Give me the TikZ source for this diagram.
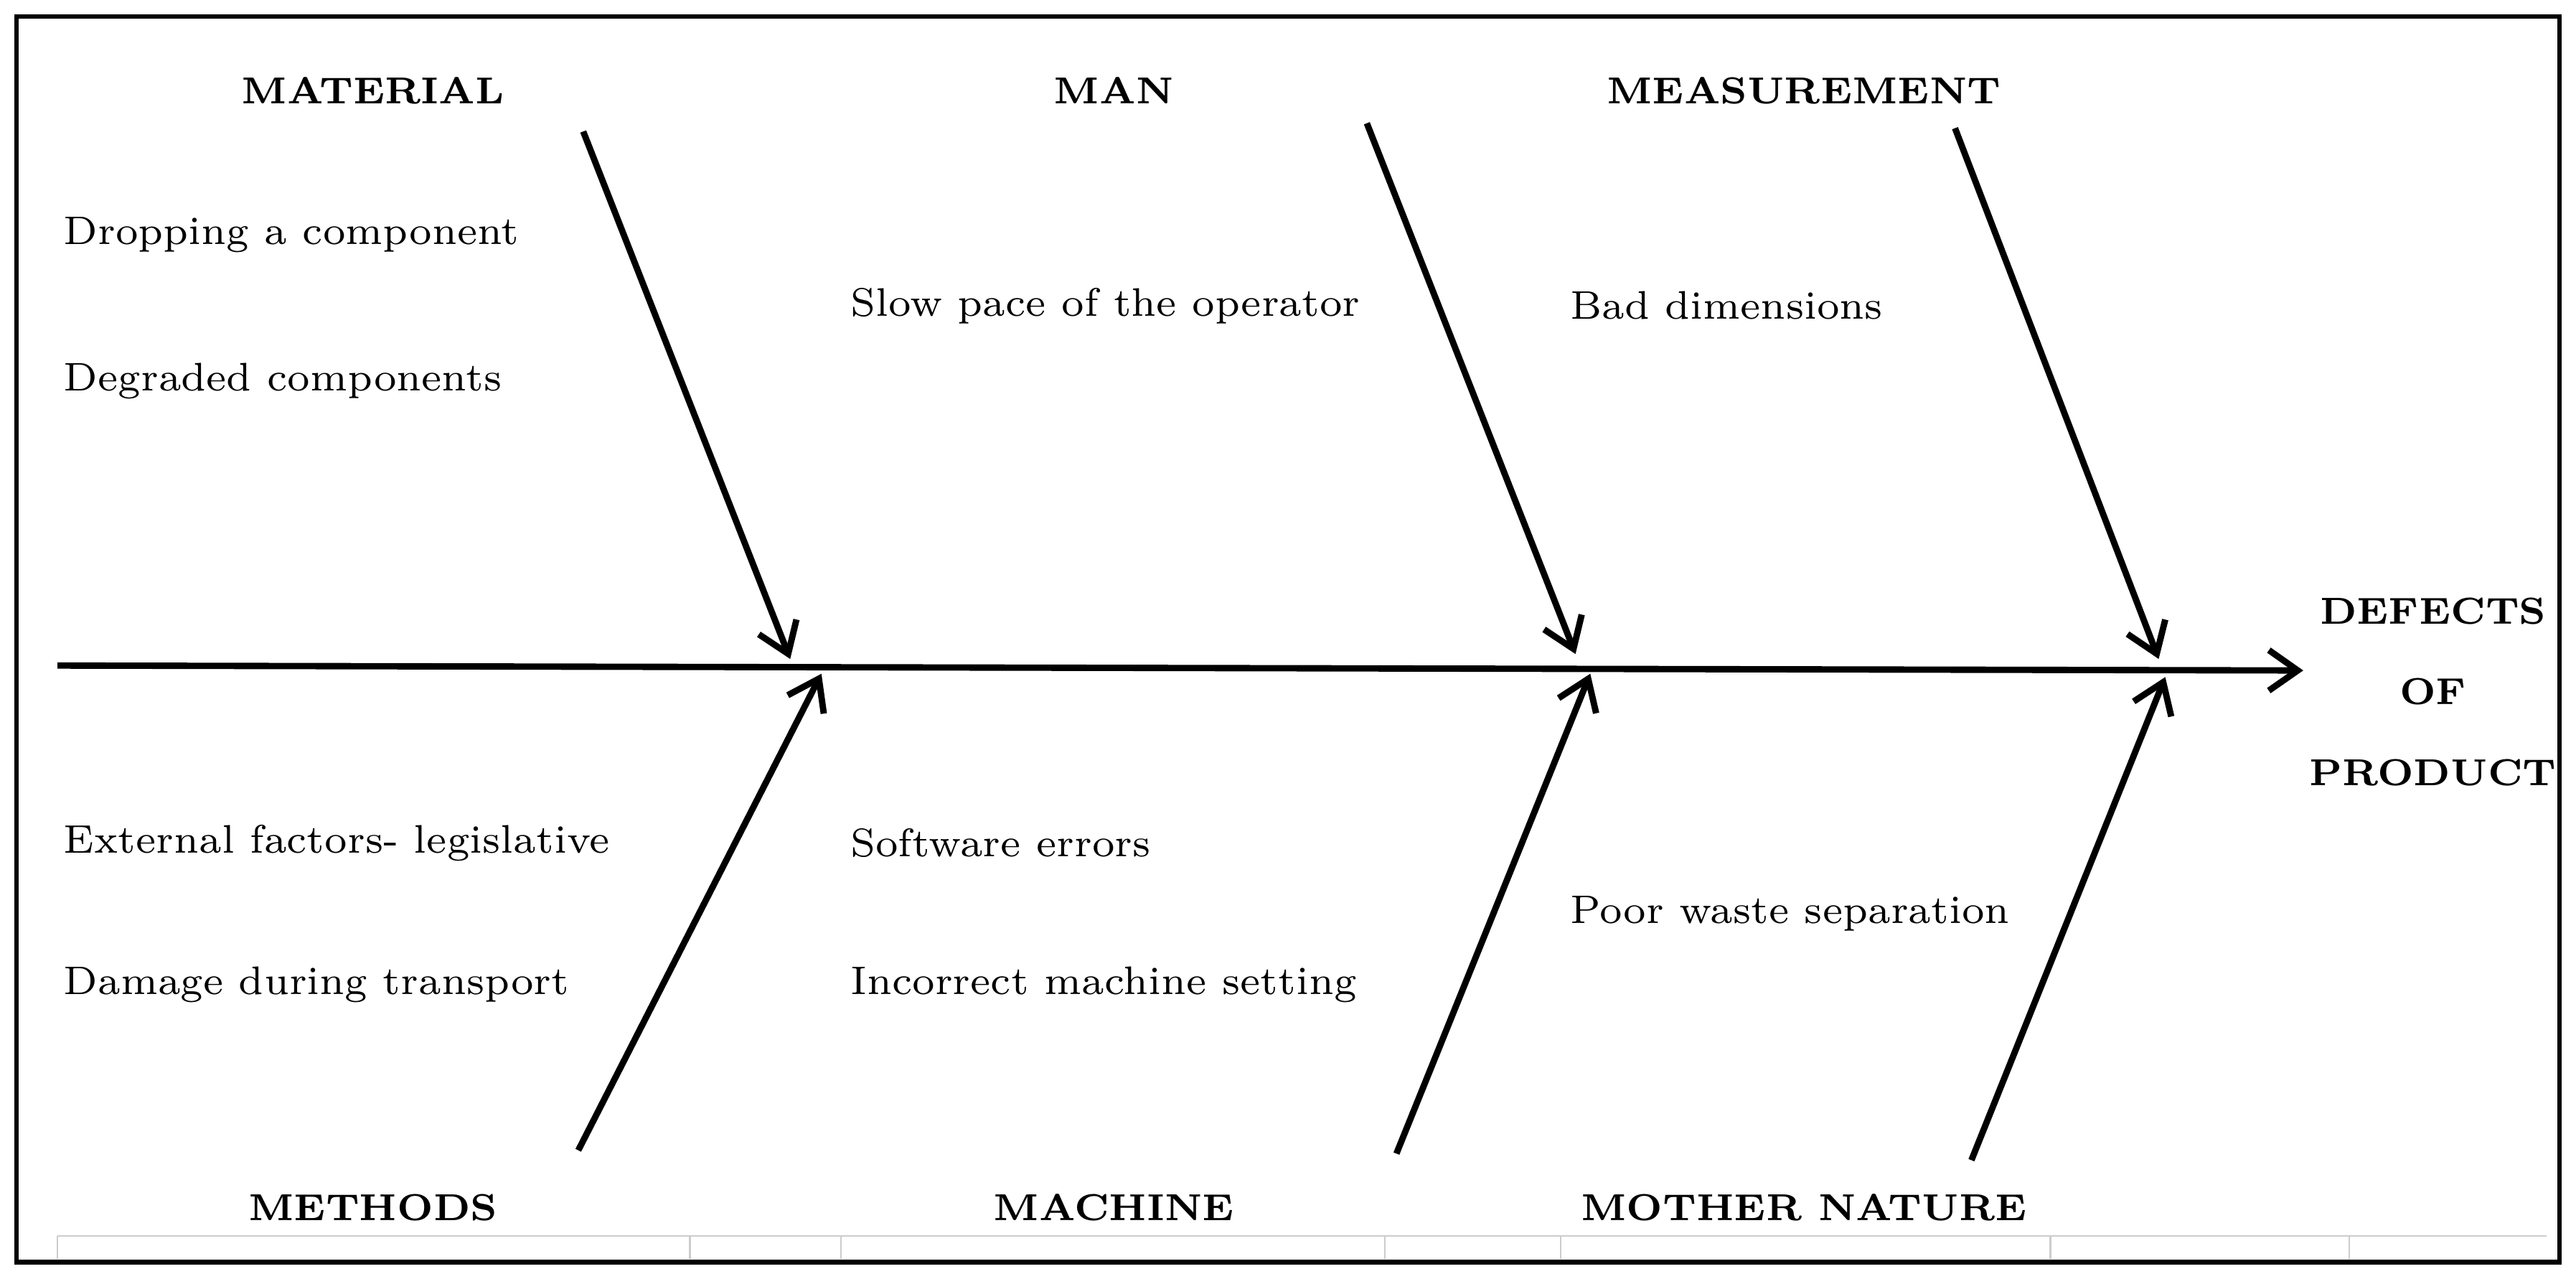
\documentclass[tikz,border=0pt]{standalone}
\usetikzlibrary{arrows.meta}
\begin{document}
\begin{tikzpicture}[x=0.01cm,y=-0.01cm,
  bone/.style={line width=1.1pt,-{Straight Barb[length=5pt,width=7pt,line width=1.1pt]}},
  cause/.style={anchor=west,inner sep=0pt,font=\fontsize{6.9}{9}\selectfont},
  head/.style={anchor=center,inner sep=0pt,font=\fontsize{6.5}{9}\selectfont\bfseries}]
\useasboundingbox (0,0) rectangle (1568,778);
\draw[line width=0.8pt] (10,10) rectangle (1558,768);
\draw[gray!40,line width=0.3pt] (35,752) -- (1550,752);
\foreach \x in {35,420,512,843,950,1248,1430} \draw[gray!40,line width=0.3pt] (\x,752) -- (\x,766);
% spine
\coordinate (tail) at (35,405);
\coordinate (headpt) at (1402,408);
\draw[bone] (tail) -- (headpt);
% branches
\coordinate (a1) at (355,80);
\coordinate (a2) at (832,75);
\coordinate (a3) at (1190,78);
\coordinate (b1) at (352,700);
\coordinate (b2) at (850,702);
\coordinate (b3) at (1200,706);
\coordinate (e1) at (481,401);
\coordinate (e2) at (959,398);
\coordinate (e3) at (1314,401);
\coordinate (f1) at (500,410);
\coordinate (f2) at (968,410);
\coordinate (f3) at (1318,412);
\draw[bone] (a1) -- (e1);
\draw[bone] (a2) -- (e2);
\draw[bone] (a3) -- (e3);
\draw[bone] (b1) -- (f1);
\draw[bone] (b2) -- (f2);
\draw[bone] (b3) -- (f3);
% headings
\node[head] (hmat) at (227,55) {MATERIAL};
\node[head] (hman) at (678,55) {MAN};
\node[head] (hmea) at (1098,55) {MEASUREMENT};
\node[head] (hmet) at (227,735) {METHODS};
\node[head] (hmac) at (678,735) {MACHINE};
\node[head] (hmot) at (1098,735) {MOTHER NATURE};
\node[head,align=center,font=\fontsize{6.5}{14}\selectfont\bfseries] (effect) at (1481,421) {DEFECTS\\OF\\PRODUCT};
% causes
\node[cause] (c1) at (38,143) {Dropping a component};
\node[cause] (c2) at (38,232) {Degraded components};
\node[cause] (c3) at (517,186) {Slow pace of the operator};
\node[cause] (c4) at (955,186) {Bad dimensions};
\node[cause] (c5) at (38,513) {External factors- legislative};
\node[cause] (c6) at (38,599) {Damage during transport};
\node[cause] (c7) at (517,513) {Software errors};
\node[cause] (c8) at (517,599) {Incorrect machine setting};
\node[cause] (c9) at (955,556) {Poor waste separation};
\end{tikzpicture}
\end{document}
